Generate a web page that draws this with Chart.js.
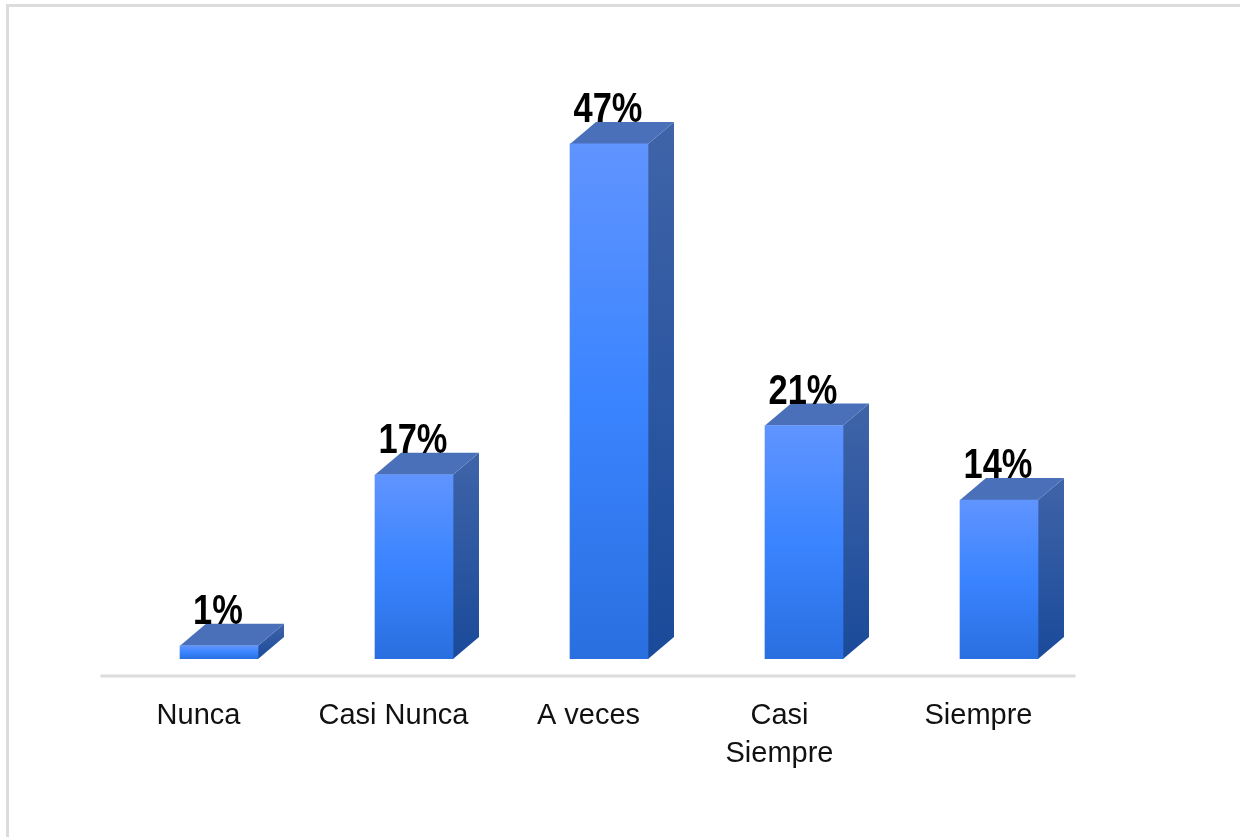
<!DOCTYPE html>
<html>
<head>
<meta charset="utf-8">
<style>
    html, body { margin: 0; padding: 0; background: #fff; overflow: hidden; }
    #frame { position: absolute; left: 6px; top: 4px; right: -10px; bottom: -10px; border: 3px solid #dcdcdc; }
    #chart { position: absolute; left: 0; top: 0; }
</style>
<script src="https://cdn.jsdelivr.net/npm/chart.js@4/dist/chart.umd.min.js"></script>
</head>
<body>
<div id="frame"></div>
<canvas id="chart" width="1240" height="837"></canvas>
<script>
// Values
const categories = ['Nunca', 'Casi Nunca', 'A veces', ['Casi', 'Siempre'], 'Siempre'];
const barValues = [1.2, 16.8, 47, 21.3, 14.5];
const barLabels = ['1%', '17%', '47%', '21%', '14%'];

const DEPTH_X = 26;
const DEPTH_Y = 22;

// Side and top faces of the 3D bars
const faces3d = {
    id: 'faces3d',
    beforeDatasetsDraw(chart) {
        const ctx = chart.ctx;
        chart.getDatasetMeta(0).data.forEach(bar => {
            const right = bar.x + bar.width / 2;
            const left = bar.x - bar.width / 2;

            const side = ctx.createLinearGradient(0, bar.y - DEPTH_Y, 0, bar.base);
            side.addColorStop(0, '#3f64a8');
            side.addColorStop(1, '#1a4a9a');
            ctx.fillStyle = side;
            ctx.beginPath();
            ctx.moveTo(right, bar.y);
            ctx.lineTo(right + DEPTH_X, bar.y - DEPTH_Y);
            ctx.lineTo(right + DEPTH_X, bar.base - DEPTH_Y);
            ctx.lineTo(right, bar.base);
            ctx.closePath();
            ctx.fill();

            ctx.fillStyle = '#4a70b9';
            ctx.beginPath();
            ctx.moveTo(left, bar.y);
            ctx.lineTo(left + DEPTH_X, bar.y - DEPTH_Y);
            ctx.lineTo(right + DEPTH_X, bar.y - DEPTH_Y);
            ctx.lineTo(right, bar.y);
            ctx.closePath();
            ctx.fill();
        });
    },
    afterDatasetsDraw(chart) {
        const ctx = chart.ctx;
        // floor line
        const floorY = chart.scales.y.bottom + 17;
        ctx.strokeStyle = '#dcdcdc';
        ctx.lineWidth = 3;
        ctx.beginPath();
        ctx.moveTo(chart.chartArea.left - 21, floorY);
        ctx.lineTo(chart.chartArea.right - 21, floorY);
        ctx.stroke();

        // value labels, squeezed a bit like the original
        chart.getDatasetMeta(0).data.forEach((bar, i) => {
            ctx.save();
            ctx.translate(bar.x - 1, bar.y - DEPTH_Y);
            ctx.scale(0.82, 1);
            ctx.font = 'bold 42px "Liberation Sans"';
            ctx.fillStyle = '#000';
            ctx.textAlign = 'center';
            ctx.textBaseline = 'alphabetic';
            ctx.fillText(barLabels[i], 0, 0);
            ctx.restore();
        });
    }
};

function frontGradient(context) {
    const chart = context.chart;
    const yScale = chart.scales.y;
    if (!yScale || context.type !== 'data') return '#3a84ff';
    const top = yScale.getPixelForValue(context.raw);
    const bottom = yScale.getPixelForValue(0);
    if (!isFinite(top) || !isFinite(bottom)) return '#3a84ff';
    const g = chart.ctx.createLinearGradient(0, top, 0, bottom);
    g.addColorStop(0, '#6094ff');
    g.addColorStop(0.5, '#3a84ff');
    g.addColorStop(1, '#2a6fe0');
    return g;
}

new Chart(document.getElementById('chart'), {
    type: 'bar',
    data: {
        labels: categories,
        datasets: [{
            data: barValues,
            backgroundColor: frontGradient,
            borderWidth: 0,
            barThickness: 78
        }]
    },
    options: {
        responsive: false,
        animation: false,
        layout: { padding: { left: 121.5, right: 143.5, top: 1.4, bottom: 0 } },
        plugins: { legend: { display: false }, tooltip: { enabled: false } },
        scales: {
            x: {
                grid: { display: false },
                border: { display: false },
                afterFit: scale => { scale.height = 178; },
                ticks: {
                    color: '#111',
                    padding: 30,
                    labelOffset: -20.5,
                    maxRotation: 0,
                    autoSkip: false,
                    font: { family: '"Liberation Sans"', size: 29, lineHeight: 1.3 },
                    // the two line label sits a little left of its slot in the original
                    callback(value) {
                        const label = this.getLabelForValue(value);
                        return Array.isArray(label) ? label.map(s => s + ' ') : label;
                    }
                }
            },
            y: {
                display: false,
                min: 0,
                max: 60
            }
        }
    },
    plugins: [faces3d]
});
</script>
</body>
</html>
